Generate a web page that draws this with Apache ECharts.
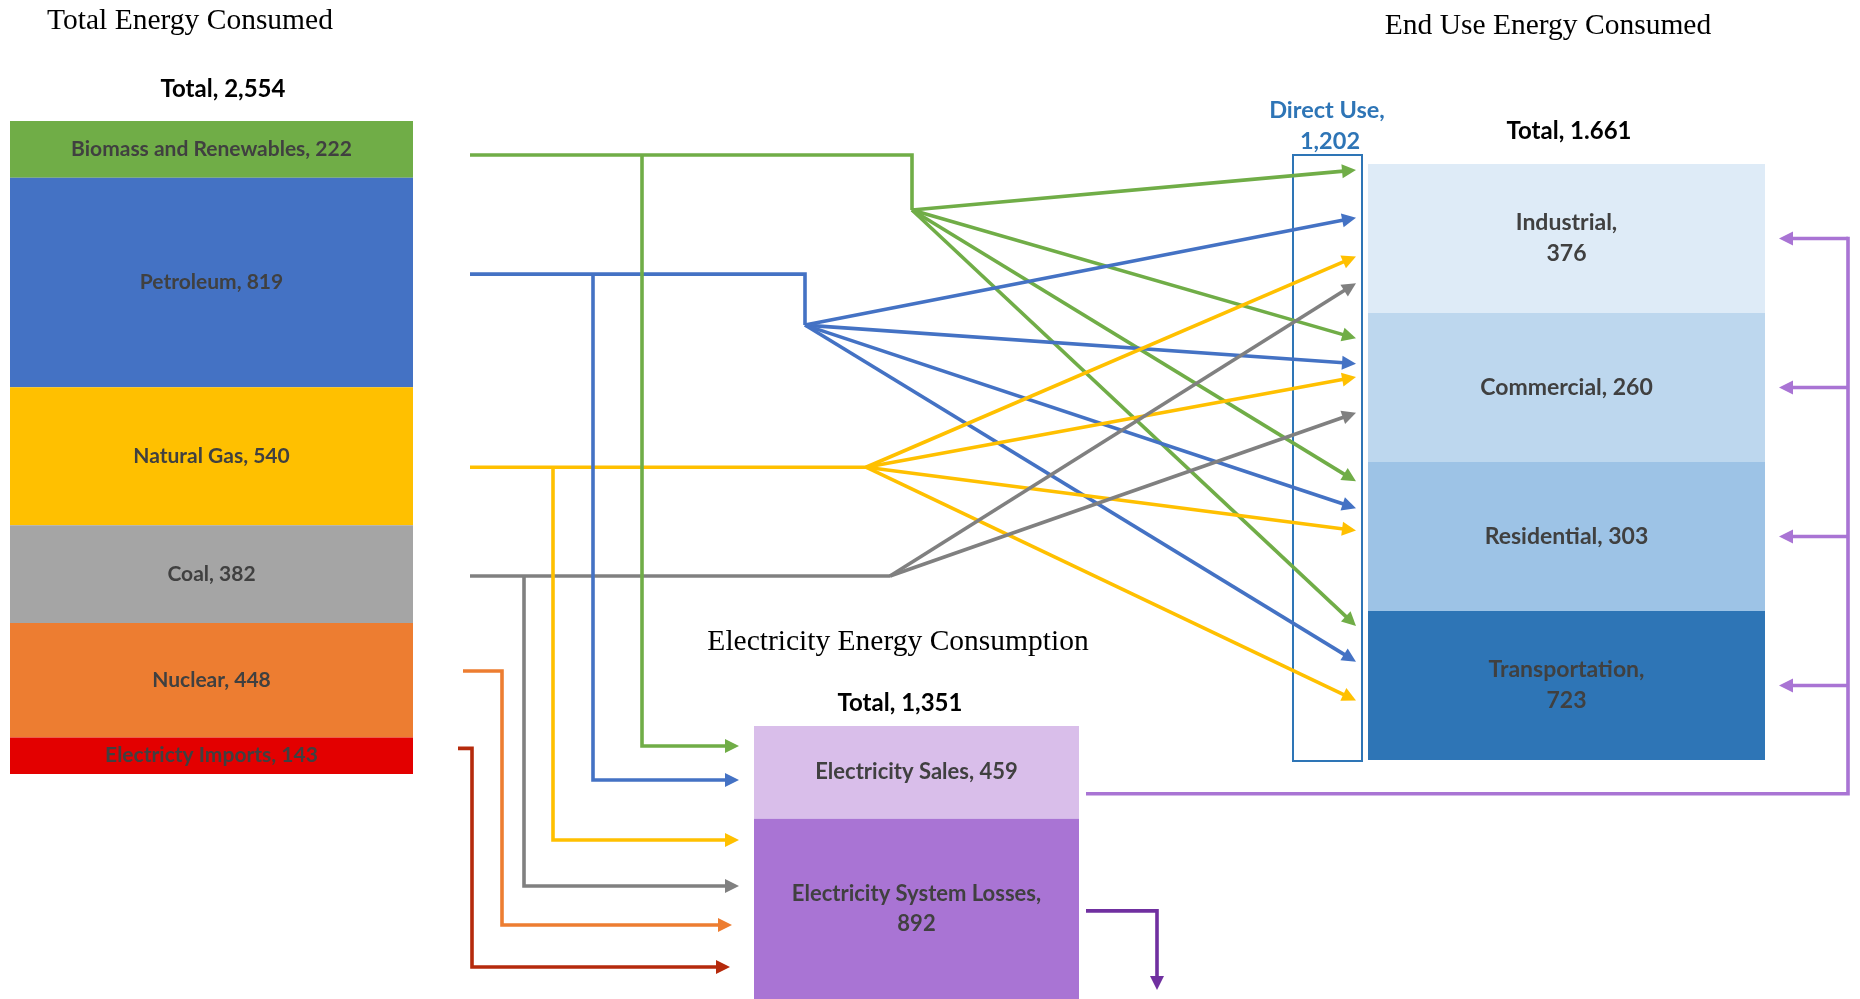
<!DOCTYPE html>
<html>
<head>
<meta charset="utf-8">
<script src="https://cdn.jsdelivr.net/npm/echarts@6/dist/echarts.min.js"></script>
<style>
  html, body { margin: 0; padding: 0; background: #ffffff; }
  #chart { width: 1860px; height: 999px; }
</style>
</head>
<body>
<div id="chart"></div>
<script>
// ---- data ----
const sourceNames = ['Biomass and Renewables', 'Petroleum', 'Natural Gas', 'Coal', 'Nuclear', 'Electricty Imports'];
const sourceValues = [222, 819, 540, 382, 448, 143];

const electricityNames = ['Electricity Sales', 'Electricity System Losses'];
const electricityValues = [459, 892];

const sectorNames = ['Industrial', 'Commercial', 'Residential', 'Transportation'];
const sectorValues = [376, 260, 303, 723];

const directUseValue = 1202;
const endUseTotalLabel = 'Total, 1.661';

const headerTitles = ['Total Energy Consumed', 'Electricity Energy Consumption', 'End Use Energy Consumed'];

// fuels that are used directly (rows: Biomass, Petroleum, Natural Gas, Coal) x sectors
const directLinks = [
  [1, 1, 1, 1],
  [1, 1, 1, 1],
  [1, 1, 1, 1],
  [1, 1, 0, 0]
];

// ---- styling ----
const sourceColors = ['#70AD47', '#4472C4', '#FFC000', '#A5A5A5', '#ED7D31', '#E30000'];
const flowColors = ['#70AD47', '#4472C4', '#FFC000', '#808080', '#ED7D31', '#B52A0C'];
const electricityColors = ['#D9BEEA', '#A974D4'];
const sectorColors = ['#DEEBF7', '#BDD7EE', '#9DC3E6', '#2E75B6'];
const LABEL_INK = '#404040';
const SANS = 'Lato, "Open Sans", sans-serif';
const SERIF = '"Liberation Serif", "DejaVu Serif", serif';
const wrapLabel = new Set(['Industrial', 'Transportation', 'Electricity System Losses']);

const fmt = n => n.toLocaleString('en-US');
const labelText = (name, value) => name + (wrapLabel.has(name) ? ',\n' : ', ') + value;

// panel placement
const gridSrc = { left: 10, top: 121, width: 403, height: 653 };
const gridElec = { left: 754, top: 726, width: 325, height: 273 };
const gridEnd = { left: 1368, top: 164, width: 397, height: 596 };

const chart = echarts.init(document.getElementById('chart'), null, { renderer: 'canvas' });

function stackSeries(names, values, colors, axisIndex, stackId, fontSize) {
  return names.map((n, i) => ({
    type: 'bar',
    name: n,
    xAxisIndex: axisIndex,
    yAxisIndex: axisIndex,
    stack: stackId,
    barWidth: '100%',
    silent: true,
    data: [values[i]],
    itemStyle: { color: colors[i] },
    label: {
      show: true,
      position: 'inside',
      formatter: labelText(n, values[i]),
      color: LABEL_INK,
      fontFamily: SANS,
      fontWeight: 'bold',
      fontSize: fontSize,
      lineHeight: fontSize + 8,
      align: 'center'
    }
  }));
}

const sum = a => a.reduce((s, v) => s + v, 0);

chart.setOption({
  animation: false,
  backgroundColor: '#ffffff',
  grid: [
    Object.assign({}, gridSrc),
    Object.assign({}, gridElec),
    Object.assign({}, gridEnd)
  ],
  xAxis: [
    { type: 'category', gridIndex: 0, data: ['sources'], show: false },
    { type: 'category', gridIndex: 1, data: ['electricity'], show: false },
    { type: 'category', gridIndex: 2, data: ['end use'], show: false }
  ],
  yAxis: [
    { type: 'value', gridIndex: 0, inverse: true, min: 0, max: sum(sourceValues), show: false },
    { type: 'value', gridIndex: 1, inverse: true, min: 0, max: sum(electricityValues), show: false },
    { type: 'category', gridIndex: 2, inverse: true, data: sectorNames, show: false }
  ],
  series: [
    ...stackSeries(sourceNames, sourceValues, sourceColors, 0, 'sources', 21),
    ...stackSeries(electricityNames, electricityValues, electricityColors, 1, 'electricity', 22),
    {
      type: 'custom',
      name: 'End use',
      xAxisIndex: 2,
      yAxisIndex: 2,
      silent: true,
      data: sectorValues.map((v, i) => [0, i, v]),
      encode: { x: 0, y: 1 },
      renderItem(params, api) {
        const c = api.coord([api.value(0), api.value(1)]);
        const s = api.size([1, 1]);
        const i = params.dataIndex;
        return {
          type: 'rect',
          shape: { x: c[0] - s[0] / 2, y: c[1] - s[1] / 2, width: s[0], height: s[1] },
          style: { fill: sectorColors[i] },
          textContent: {
            style: {
              text: labelText(sectorNames[i], api.value(2)),
              fill: LABEL_INK,
              font: 'bold 23px ' + SANS,
              align: 'center',
              verticalAlign: 'middle',
              lineHeight: 31
            }
          },
          textConfig: { position: 'inside' }
        };
      }
    }
  ]
});

// ---- connectors, built from the panel positions ----
const px = (g, v) => chart.convertToPixel({ gridIndex: g }, [0, v]);

// where each fuel's flow leaves its block (fraction of block height)
const exitFrac = [0.6, 0.46, 0.58, 0.52, 0.42, 0.3];
let acc = 0;
const srcExit = sourceValues.map((v, i) => { const y = px(0, acc + v * exitFrac[i])[1]; acc += v; return y; });
const srcRight = gridSrc.left + gridSrc.width;

// electricity segments
const elecTop = px(1, 0)[1];
const elecSplit = px(1, electricityValues[0])[1];
const elecBottom = px(1, sum(electricityValues))[1];
const elecRight = gridElec.left + gridElec.width;

// sector bands
const sectorCenter = sectorNames.map((_, j) => px(2, j)[1]);
const bandH = sectorNames.length > 1 ? sectorCenter[1] - sectorCenter[0] : gridEnd.height;
const endLeft = gridEnd.left;
const endRight = gridEnd.left + gridEnd.width;

const G = [];
const LW = 3.6;

function polyline(points, color, width) {
  G.push({ type: 'polyline', silent: true, z: 10,
    shape: { points },
    style: { stroke: color, lineWidth: width || LW, fill: null, lineJoin: 'miter', lineCap: 'butt' } });
}
function arrowHead(tip, from, color, len, half) {
  const dx = tip[0] - from[0], dy = tip[1] - from[1];
  const d = Math.hypot(dx, dy), ux = dx / d, uy = dy / d;
  const bx = tip[0] - ux * len, by = tip[1] - uy * len;
  G.push({ type: 'polygon', silent: true, z: 11,
    shape: { points: [tip, [bx - uy * half, by + ux * half], [bx + uy * half, by - ux * half]] },
    style: { fill: color } });
  return [bx + ux * 1.5, by + uy * 1.5];
}
function arrow(points, color, width) {
  const n = points.length;
  const base = arrowHead(points[n - 1], points[n - 2], color, 14, 7);
  polyline(points.slice(0, n - 1).concat([base]), color, width);
}

// direct-use trunks: hub position per fuel
const trunkStart = srcRight + 57;
const hubs = [
  { x: 912, drop: 55 },
  { x: 805, drop: 51 },
  { x: 866, drop: 0 },
  { x: 890, drop: 0 }
];
// arrow slots inside each sector band (fraction of band height)
const slotFrac = [
  [0.04, 0.36, 0.62, 0.80],
  [0.17, 0.34, 0.43, 0.67],
  [0.13, 0.31, 0.46],
  [0.10, 0.34, 0.60]
];
const directTipX = endLeft - 12;
const slotCount = sectorNames.map(() => 0);

directLinks.forEach((row, i) => {
  const y = srcExit[i];
  const hub = [hubs[i].x, y + hubs[i].drop];
  const pts = [[trunkStart, y], [hubs[i].x, y]];
  if (hubs[i].drop) pts.push(hub);
  polyline(pts, flowColors[i]);
  row.forEach((on, j) => {
    if (!on) return;
    const k = slotCount[j]++;
    const top = sectorCenter[j] - bandH / 2;
    arrow([hub, [directTipX, top + bandH * slotFrac[j][k]]], flowColors[i]);
  });
});

// feeds into electricity generation
const branchX = [642, 593, 553, 524, 502, 472];
const branchStart = [null, null, null, null, srcRight + 50, srcRight + 45];
const elecTipX = [739, 739, 739, 739, 732, 730];
const elecSlots = [20, 54, 114, 160, 199, 241];
sourceNames.forEach((_, i) => {
  const y = srcExit[i];
  const ty = elecTop + elecSlots[i];
  const pts = [];
  if (branchStart[i] !== null) pts.push([branchStart[i], y]);
  pts.push([branchX[i], y], [branchX[i], ty], [elecTipX[i], ty]);
  arrow(pts, flowColors[i]);
});

// electricity sales delivered to every sector
const salesY = elecTop + (elecSplit - elecTop) * 0.73;
const busX = endRight + 83;
polyline([[elecRight + 7, salesY], [busX, salesY], [busX, sectorCenter[0] - 1.8]], '#A974D4');
sectorCenter.forEach(c => arrow([[busX, c], [endRight + 14, c]], '#A974D4'));

// system losses leave the system
const lossY = (elecSplit + elecBottom) / 2 + 2;
arrow([[elecRight + 7, lossY], [elecRight + 78, lossY], [elecRight + 78, 990]], '#7030A0');

// direct use frame
G.push({ type: 'rect', silent: true, z: 5,
  shape: { x: endLeft - 75, y: gridEnd.top - 9, width: 69, height: gridEnd.height + 10 },
  style: { fill: null, stroke: '#2E75B6', lineWidth: 2 } });

// headings
function text(str, x, y, font, color) {
  G.push({ type: 'text', silent: true, z: 20, x, y,
    style: { text: str, font, fill: color, align: 'center', verticalAlign: 'middle' } });
}
const titleFont = '29.5px ' + SERIF;
const totalFont = 'bold 24px ' + SANS;
text(headerTitles[0], 190, 21, titleFont, '#000000');
text(headerTitles[1], 898, 642, titleFont, '#000000');
text(headerTitles[2], 1548, 26, titleFont, '#000000');
text('Total, ' + fmt(sum(sourceValues)), 223, 89, totalFont, '#000000');
text('Total, ' + fmt(sum(electricityValues)), 900, 703, totalFont, '#000000');
text(endUseTotalLabel, 1569, 131, totalFont, '#000000');
text('Direct Use,', 1327, 110, 'bold 23.5px ' + SANS, '#2E75B6');
text(fmt(directUseValue), 1330, 141, 'bold 23.5px ' + SANS, '#2E75B6');

chart.setOption({ graphic: { elements: G } });
</script>
</body>
</html>
